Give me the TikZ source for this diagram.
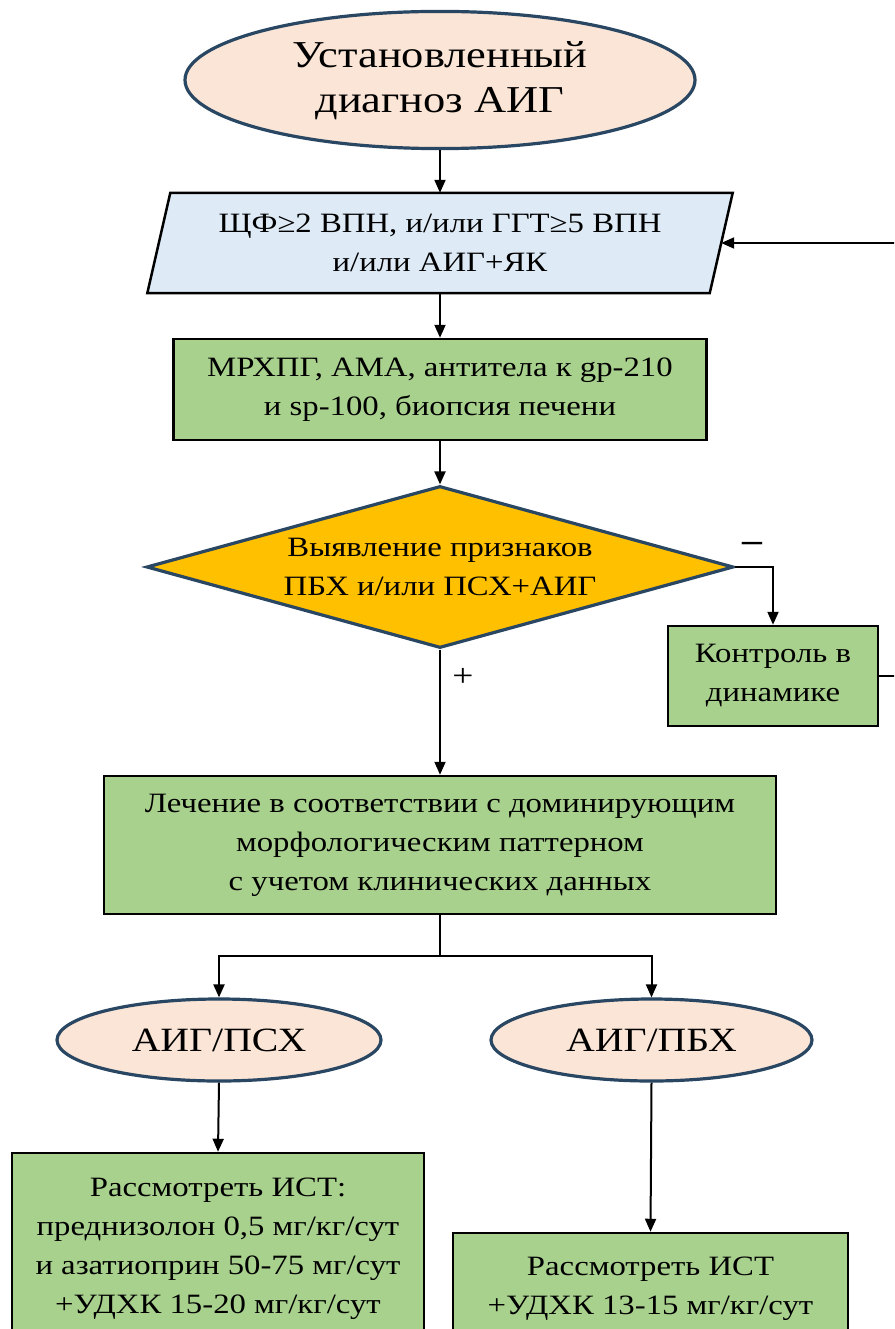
\documentclass[tikz,border=0pt]{standalone}
\usepackage{fontspec}
\setmainfont[FakeStretch=1.17]{Liberation Serif}
\usetikzlibrary{shapes.geometric,arrows.meta}
\definecolor{peach}{HTML}{FBE5D6}
\definecolor{paleblue}{HTML}{DEEBF7}
\definecolor{leaf}{HTML}{A9D18E}
\definecolor{gold}{HTML}{FFC000}
\definecolor{slate}{HTML}{294663}
\begin{document}
\begin{tikzpicture}[x=1pt,y=-1pt,
  txt/.style={font=\fontsize{28}{39}\selectfont, align=center},
  oval/.style={ellipse, draw=slate, fill=peach, line width=3.2pt, inner sep=0pt},
  greenbox/.style={rectangle, draw=black, fill=leaf, line width=2.5pt, inner sep=0pt, txt},
  link/.style={line width=2pt, -{Triangle[length=13pt,width=11pt]}},
  plain/.style={line width=2pt}]
% page frame
\clip (0,0) rectangle (894,1329);
\fill[white] (0,0) rectangle (894,1329);

% starting point
\node[oval, minimum width=510pt, minimum height=130pt, align=center,
      font=\fontsize{38}{52}\selectfont] (start) at (440,80)
  {\raisebox{-4pt}{\begin{tabular}{@{}c@{}}Установленный\\[-7pt]диагноз АИГ\end{tabular}}};

% laboratory criteria (parallelogram)
\node[minimum width=562pt, minimum height=100pt, inner sep=0pt] (par) at (440,243) {};
\draw[fill=paleblue, line width=2.5pt, line join=miter]
  ([xshift=11.5pt]par.north west) -- ([xshift=11.5pt]par.north east) --
  ([xshift=-11.5pt]par.south east) -- ([xshift=-11.5pt]par.south west) -- cycle;
\node[txt] (partext) at (par.center) {ЩФ≥2 ВПН, и/или ГГТ≥5 ВПН\\и/или АИГ+ЯК};

% examination
\node[greenbox, minimum width=533pt, minimum height=101pt] (mrx) at (440,389.5)
  {МРХПГ, АМА, антитела к gp-210\\и sp-100, биопсия печени};

% decision
\node[diamond, draw=slate, fill=gold, line width=3.2pt, inner sep=0pt,
      minimum width=587pt, minimum height=162pt] (dec) at (440,567) {};
\node[txt] (dectext) at (dec.center) {Выявление признаков\\ПБХ и/или ПСХ+АИГ};

% follow-up
\node[greenbox, minimum width=210pt, minimum height=100pt] (ctrl) at (773,676)
  {Контроль в\\динамике};

% treatment
\node[greenbox, minimum width=672pt, minimum height=138pt] (treat) at (440,845)
  {Лечение в соответствии с доминирующим\\морфологическим паттерном\\с учетом клинических данных};

% overlap variants
\node[oval, minimum width=324pt, minimum height=82pt, font=\fontsize{34}{44}\selectfont]
  (psx) at (219,1040) {АИГ/ПСХ};
\node[oval, minimum width=321pt, minimum height=82pt, font=\fontsize{34}{44}\selectfont]
  (pbx) at (651.5,1040) {АИГ/ПБХ};

% therapy boxes
\node[greenbox, minimum width=412pt, minimum height=192pt]
  (lbox) at (218,1249)
  {Рассмотреть ИСТ:\\преднизолон 0,5 мг/кг/сут\\и азатиоприн 50-75 мг/сут\\+УДХК 15-20 мг/кг/сут};
\node[greenbox, minimum width=395pt, minimum height=112pt] (rbox) at (650.5,1289)
  {Рассмотреть ИСТ\\+УДХК 13-15 мг/кг/сут};

% connectors
\draw[link] (start.south) -- (par.north);
\draw[link] (par.south) -- (mrx.north);
\draw[link] (mrx.south) -- (dec.north);
\draw[link] (dec.east) -| (ctrl.north);
\draw[link] (dec.south) -- (treat.north);
\draw[link] (ctrl.east) -- ++(30,0) |- (par.east);
\coordinate (split) at (440,956);
\draw[plain] (treat.south) -- (split);
\draw[link] (split) -| (psx.north);
\draw[link] (split) -| (pbx.north);
\draw[link] (psx.south) -- (lbox.north);
\draw[link] (pbx.south) -- (rbox.north);

% branch signs
\node[font=\fontsize{34}{34}\selectfont\bfseries] (minus) at (752,547) {–};
\node[font=\fontsize{32}{32}\selectfont] (plus) at (463,677) {+};
\end{tikzpicture}
\end{document}
